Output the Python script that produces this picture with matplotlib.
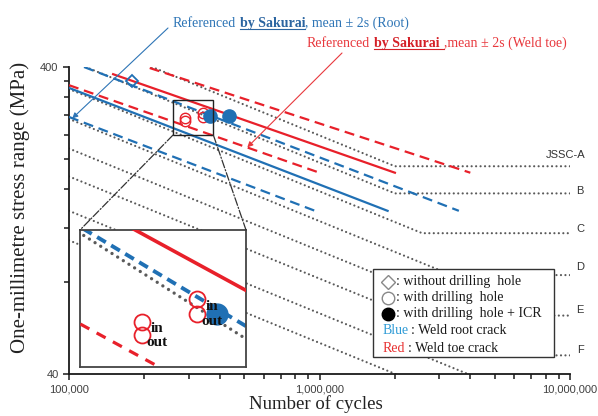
import matplotlib
matplotlib.use("Agg")
import matplotlib.pyplot as plt
from matplotlib.patches import Rectangle, ConnectionPatch
from matplotlib.lines import Line2D
from matplotlib.ticker import FixedLocator, FixedFormatter, NullFormatter

plt.rcParams['font.family'] = ['Liberation Sans', 'DejaVu Sans']

# ---------------- data ----------------
x_ticks = [1e5, 1e6, 1e7]
x_tick_labels = ['100,000', '1,000,000', '10,000,000']
y_ticks = [40, 400]
y_tick_labels = ['40', '400']
y_minor = [80, 120, 160, 200, 240, 280, 320, 360]

jssc_labels = ['JSSC-A', 'B', 'C', 'D', 'E', 'F', None, None]
jssc_N = [[1e5, 2.0e6, 1e7], [1e5, 2.0e6, 1e7], [1e5, 2.57e6, 1e7],
          [1e5, 3.37e6, 1e7], [1e5, 4.3e6, 1e7], [1e5, 5.64e6, 1e7],
          [1e5, 7.63e6, 1e7], [1e5, 1e7]]
jssc_S = [[516, 190, 190], [421, 155, 155], [339, 115, 115],
          [271, 84, 84], [217, 62, 62], [176, 46, 46],
          [136, 32, 32], [109, 23.4]]

red_mean_N, red_mean_S = [1.5e5, 2.0e6], [379, 181]
red_lo_N, red_lo_S = [1.0e5, 1.0e6], [349, 181]
red_hi_N, red_hi_S = [2.1e5, 4.0e6], [397, 181]
blue_mean_N, blue_mean_S = [1.0e5, 1.87e6], [342, 136]
blue_lo_N, blue_lo_S = [1.0e5, 9.6e5], [275, 136]
blue_hi_N, blue_hi_S = [1.148e5, 3.6e6], [400, 136]

diamond_N, diamond_S = [1.79e5], [360]
red_circ_N = [2.91e5, 2.91e5, 3.44e5, 3.44e5]
red_circ_S = [272.6, 266.7, 282.4, 275.8]
red_circ_tag = ['in', 'out', 'in', 'out']
blue_dot_N, blue_dot_S = [3.66e5, 4.37e5], [276, 278]

zoom_N = [2.6e5, 3.77e5]
zoom_S = [240, 313]
inset_N = [2.41e5, 4.0e5]
inset_S = [253.5, 315.5]

# ---------------- style ----------------
W, H = 598, 416
RED = '#E8202A'
BLUE = '#2070B4'
GREY = '#5a5a5a'
SERIF = ['Liberation Serif', 'DejaVu Serif']
DOT = (0, (0.01, 2.0))
DASH = (0, (4.5, 2.6))

fig = plt.figure(figsize=(W / 100, H / 100), dpi=100)
ax = fig.add_axes([69 / W, 42 / H, 501 / W, 307 / H])

for n, s in zip(jssc_N, jssc_S):
    ax.plot(n, s, color=GREY, lw=1.6, ls=DOT, dash_capstyle='round', zorder=2)
ax.plot(red_mean_N, red_mean_S, color=RED, lw=1.6, zorder=3)
ax.plot(red_lo_N, red_lo_S, color=RED, lw=1.6, ls=DASH, zorder=3)
ax.plot(red_hi_N, red_hi_S, color=RED, lw=1.6, ls=DASH, zorder=3)
ax.plot(blue_mean_N, blue_mean_S, color=BLUE, lw=1.6, zorder=3)
ax.plot(blue_lo_N, blue_lo_S, color=BLUE, lw=1.6, ls=DASH, zorder=3)
ax.plot(blue_hi_N, blue_hi_S, color=BLUE, lw=1.6, ls=DASH, zorder=3)

ax.plot(diamond_N, diamond_S, ls='none', marker='D', ms=6, mfc='none', mec=BLUE, mew=1.3, zorder=4)
ax.plot(red_circ_N, red_circ_S, ls='none', marker='o', ms=7.5, mfc='none', mec=RED, mew=1.0, zorder=4)
ax.plot(blue_dot_N, blue_dot_S, ls='none', marker='o', ms=9.5, mfc=BLUE, mec=BLUE, zorder=4)

ax.set_xscale('log')
ax.set_yscale('log')
ax.set_xlim(1e5, 1e7)
ax.set_ylim(40, 400)
for sp in ['top', 'right']:
    ax.spines[sp].set_visible(False)
for sp in ['left', 'bottom']:
    ax.spines[sp].set_color('#1a1a1a')
    ax.spines[sp].set_linewidth(1.3)

ax.xaxis.set_major_locator(FixedLocator(x_ticks))
ax.xaxis.set_major_formatter(FixedFormatter(x_tick_labels))
ax.xaxis.set_minor_locator(FixedLocator([k * 10 ** e for e in (5, 6) for k in range(2, 10)]))
ax.xaxis.set_minor_formatter(NullFormatter())
ax.yaxis.set_major_locator(FixedLocator(y_ticks))
ax.yaxis.set_major_formatter(FixedFormatter(y_tick_labels))
ax.yaxis.set_minor_locator(FixedLocator(y_minor))
ax.yaxis.set_minor_formatter(NullFormatter())
ax.tick_params(which='both', direction='out', color='#1a1a1a', width=1.1,
               labelsize=8, labelcolor='#404040')
ax.tick_params(which='major', length=4)
ax.tick_params(which='minor', length=3.5)

# JSSC class labels
label_dy = [11, 2, 4, 8, 6, 5]
for lab, s, dy in zip(jssc_labels, jssc_S, label_dy + [0, 0]):
    if lab is None:
        continue
    if lab == 'JSSC-A':
        ax.annotate(lab, xy=(1e7, s[-1]), xytext=(15 * 0.72, dy * 0.72), textcoords='offset points',
                    ha='right', va='center', fontsize=8, color='#333333', annotation_clip=False)
    else:
        ax.annotate(lab, xy=(1e7, s[-1]), xytext=(10 * 0.72, dy * 0.72), textcoords='offset points',
                    ha='center', va='center', fontsize=8, color='#333333', annotation_clip=False)

# zoom rectangle in main axes
ax.add_patch(Rectangle((zoom_N[0], zoom_S[0]), zoom_N[1] - zoom_N[0], zoom_S[1] - zoom_S[0],
                       fill=False, ec='#222222', lw=1.0, zorder=5))

# ---------------- inset ----------------
axi = fig.add_axes([80 / W, 49 / H, 166 / W, 137 / H])
axi.set_facecolor('white')
axi.plot(jssc_N[1], jssc_S[1], color=GREY, lw=2.4, ls=DOT, dash_capstyle='round', zorder=3)
axi.plot(blue_hi_N, blue_hi_S, color=BLUE, lw=2.8, ls=(0, (2.6, 1.6)), zorder=2)
axi.plot(red_mean_N, red_mean_S, color=RED, lw=2.6, zorder=3)
axi.plot(red_lo_N, red_lo_S, color=RED, lw=2.3, ls=(0, (3.2, 2.6)), zorder=3)
axi.plot(red_circ_N, red_circ_S, ls='none', marker='o', ms=11.5, mfc='none', mec=RED, mew=1.3, zorder=4)
axi.plot(blue_dot_N, blue_dot_S, ls='none', marker='o', ms=15, mfc=BLUE, mec=BLUE, zorder=4)
for n, s, tag in zip(red_circ_N, red_circ_S, red_circ_tag):
    off = (9 * 0.72, -7 * 0.72) if tag == 'in' else (5 * 0.72, -7 * 0.72)
    axi.annotate(tag, xy=(n, s), xytext=off, textcoords='offset points', ha='left', va='center',
                 fontsize=11, fontweight='bold', family=SERIF, color='#111111', zorder=6)
axi.set_xscale('log')
axi.set_yscale('log')
axi.set_xlim(*inset_N)
axi.set_ylim(*inset_S)
axi.set_xticks([])
axi.set_yticks([])
axi.xaxis.set_minor_locator(FixedLocator([]))
axi.yaxis.set_minor_locator(FixedLocator([]))
for sp in axi.spines.values():
    sp.set_color('#444444')
    sp.set_linewidth(1.3)

for xa, xb in [((zoom_N[0], zoom_S[0]), (0, 1)), ((zoom_N[1], zoom_S[0]), (1, 1))]:
    cp = ConnectionPatch(xyA=xa, coordsA=ax.transData, xyB=xb, coordsB=axi.transAxes,
                         ls='-.', color='#333333', lw=0.9, zorder=6)
    fig.add_artist(cp)

# ---------------- axis labels ----------------
fig.text(20 / W, 1 - 207 / H, 'One-millimetre stress range (MPa)', rotation=90, ha='center', va='center',
         fontsize=15, family=SERIF, color='#222222')
fig.text(316 / W, 1 - 404 / H, 'Number of cycles', ha='center', va='center',
         fontsize=13.5, family=SERIF, color='#222222')

# ---------------- rich annotations ----------------
renderer = fig.canvas.get_renderer()


def rich(x_px, y_base_px, pieces, size=10):
    x = x_px
    for gap, txt, color, weight, ul in pieces:
        x += gap
        t = fig.text(x / W, 1 - y_base_px / H, txt, color=color, fontsize=size, fontweight=weight,
                     family=SERIF, ha='left', va='baseline')
        bb = t.get_window_extent(renderer)
        if ul:
            fig.add_artist(Line2D([bb.x0 / W, (bb.x1 + ul) / W], [1 - (y_base_px + 2) / H] * 2,
                                  color=color, lw=0.8, transform=fig.transFigure))
        x = bb.x1


SP = 3.5
rich(173, 27, [(0, 'Referenced', '#2E75B6', 'normal', 0),
               (SP, 'by Sakurai', '#2A64A0', 'bold', 0.01),
               (0, ', mean \u00b1 2s (Root)', '#2E75B6', 'normal', 0)])
rich(307, 47, [(0, 'Referenced', '#E8383D', 'normal', 0),
               (SP, 'by Sakurai', '#D42027', 'bold', SP + 1),
               (SP + 1, ',mean \u00b1 2s (Weld toe)', '#E8383D', 'normal', 0)])

ax.annotate('', xy=(1.03e5, 272), xycoords='data', xytext=(168, H - 28), textcoords='figure pixels',
            arrowprops=dict(arrowstyle='-|>', color='#2E75B6', lw=0.8, mutation_scale=8,
                            shrinkA=0, shrinkB=0), zorder=7)
ax.annotate('', xy=(5.15e5, 219), xycoords='data', xytext=(342, H - 53), textcoords='figure pixels',
            arrowprops=dict(arrowstyle='-|>', color='#E8383D', lw=0.8, mutation_scale=8,
                            shrinkA=0, shrinkB=0), zorder=7)

# ---------------- legend box ----------------
fig.add_artist(Rectangle((373 / W, 1 - 357 / H), 181 / W, 88 / H, transform=fig.transFigure,
                         fc='white', ec='#333333', lw=1.0, zorder=8))
rows = [282, 298, 314, 331, 348]
sym = [('D', 'none', '#888888', 7), ('o', 'none', '#888888', 9), ('o', '#000000', '#000000', 9)]
texts = [': without drilling  hole', ': with drilling  hole', ': with drilling  hole + ICR']
for (m, fc, ec, ms), txt, y in zip(sym, texts, rows[:3]):
    fig.add_artist(Line2D([388 / W], [1 - y / H], marker=m, ms=ms, mfc=fc, mec=ec, mew=1.0,
                          ls='none', transform=fig.transFigure, zorder=9))
    fig.text(396 / W, 1 - y / H, txt, fontsize=10, family=SERIF, color='#1a1a1a',
             ha='left', va='center', zorder=9)
for y, (word, col, rest) in zip(rows[3:], [('Blue', '#2E9BD6', ' : Weld root crack'),
                                           ('Red', '#E83030', ' : Weld toe crack')]):
    t = fig.text(383 / W, 1 - y / H, word, fontsize=10, family=SERIF, color=col,
                 ha='left', va='center', zorder=9)
    bb = t.get_window_extent(renderer)
    fig.text((bb.x1 + 2) / W, 1 - y / H, rest.strip(), fontsize=10, family=SERIF, color='#1a1a1a',
             ha='left', va='center', zorder=9)

fig.savefig('out.png', dpi=100)
